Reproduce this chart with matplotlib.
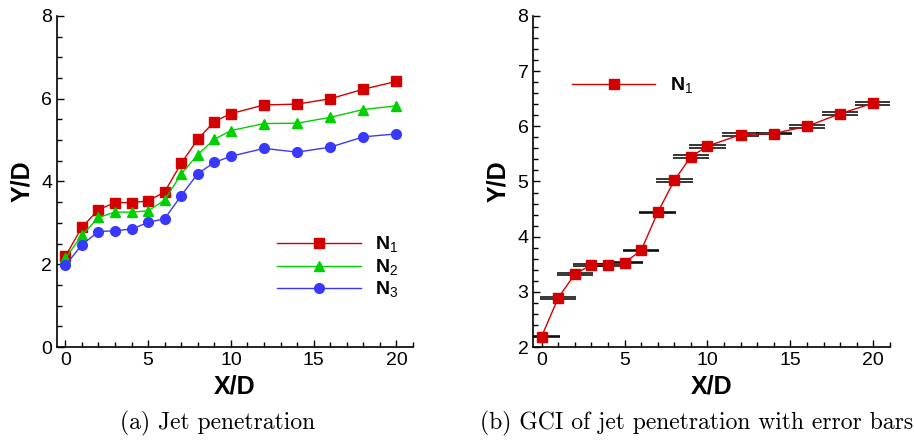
import numpy as np
import matplotlib
matplotlib.use("Agg")
from matplotlib import pyplot as plt
from matplotlib.ticker import MultipleLocator

# Data
x = [0, 1, 2, 3, 4, 5, 6, 7, 8, 9, 10, 12, 14, 16, 18, 20]
n1 = [2.19, 2.89, 3.32, 3.49, 3.49, 3.53, 3.75, 4.44, 5.02, 5.45, 5.64, 5.85, 5.87, 6.00, 6.23, 6.42]
n2 = [2.14, 2.70, 3.13, 3.26, 3.26, 3.29, 3.55, 4.18, 4.65, 5.02, 5.23, 5.40, 5.41, 5.55, 5.74, 5.83]
n3 = [1.97, 2.47, 2.79, 2.81, 2.85, 3.01, 3.10, 3.66, 4.19, 4.46, 4.61, 4.80, 4.71, 4.83, 5.08, 5.15]
# GCI error (half band) on N1
gci_err = [0.006, 0.014, 0.014, 0.016, 0.014, 0.016, 0.012, 0.010, 0.024, 0.028, 0.028, 0.024, 0.016, 0.024, 0.024, 0.028]
bar_half = 1.1

labels = [r'$\mathbf{N}_{\mathrm{1}}$', r'$\mathbf{N}_{\mathrm{2}}$', r'$\mathbf{N}_{\mathrm{3}}$']
RED = '#d40000'
GREEN = '#00d000'
BLUE = '#3838ff'

plt.rcParams['font.family'] = ['Liberation Sans', 'DejaVu Sans']
plt.rcParams['mathtext.fontset'] = 'custom'
plt.rcParams['mathtext.rm'] = 'Liberation Sans'
plt.rcParams['mathtext.bf'] = 'Liberation Sans:bold'

fig = plt.figure(figsize=(9.14, 4.43), dpi=100)
ax1 = fig.add_axes([0.0624, 0.2167, 0.3895, 0.7472])
ax2 = fig.add_axes([0.5835, 0.2167, 0.3902, 0.7472])


def style_axes(ax, ymaj, ymin):
    for s in ['top', 'right']:
        ax.spines[s].set_visible(False)
    for s in ['left', 'bottom']:
        ax.spines[s].set_linewidth(1.2)
    ax.xaxis.set_major_locator(MultipleLocator(5))
    ax.xaxis.set_minor_locator(MultipleLocator(1))
    ax.yaxis.set_major_locator(MultipleLocator(ymaj))
    ax.yaxis.set_minor_locator(MultipleLocator(ymin))
    ax.tick_params(which='both', direction='in', top=False, right=False, labelsize=14, width=1.0)
    ax.tick_params(which='major', length=5)
    ax.tick_params(which='minor', length=3.5)
    ax.set_xlim(-0.5, 21)
    ax.set_xlabel('X/D', fontsize=18, fontweight='bold', labelpad=4)
    ax.set_ylabel('Y/D', fontsize=18, fontweight='bold', labelpad=5)


leg_kw = dict(loc='center left', frameon=False, fontsize=14, handlelength=4.3,
              handletextpad=0.75, borderpad=0, borderaxespad=0)

# (a) Jet penetration
ax1.plot(x, n1, color=RED, marker='s', markersize=7, lw=1.0, label=labels[0], clip_on=False)
ax1.plot(x, n2, color=GREEN, marker='^', markersize=7, lw=1.0, label=labels[1], clip_on=False)
ax1.plot(x, n3, color=BLUE, marker='o', markersize=7, lw=1.0, label=labels[2], clip_on=False)
style_axes(ax1, 2, 0.5)
ax1.set_ylim(0, 8)
ax1.legend(bbox_to_anchor=(0.618, 0.24), labelspacing=0.1, **leg_kw)

# (b) GCI with error bars
y = np.array(n1)
e = np.array(gci_err)
xs = np.array(x)
for yy in (y - e, y + e):
    ax2.hlines(yy, xs - bar_half, xs + bar_half, colors='black', lw=1.1, zorder=2)
ax2.plot(x, n1, color=RED, marker='s', markersize=7.5, lw=1.0, label=labels[0], zorder=3, clip_on=False)
style_axes(ax2, 1, 0.2)
ax2.set_ylim(2, 8)
ax2.legend(bbox_to_anchor=(0.108, 0.79), **leg_kw)

cap = dict(family=['cmr10', 'DejaVu Serif'], fontsize=17, ha='center', va='center')
fig.text(0.238, 0.045, '(a) Jet penetration', **cap)
fig.text(0.7626, 0.045, '(b) GCI of jet penetration with error bars', **cap)

fig.savefig('out.png', dpi=100)
